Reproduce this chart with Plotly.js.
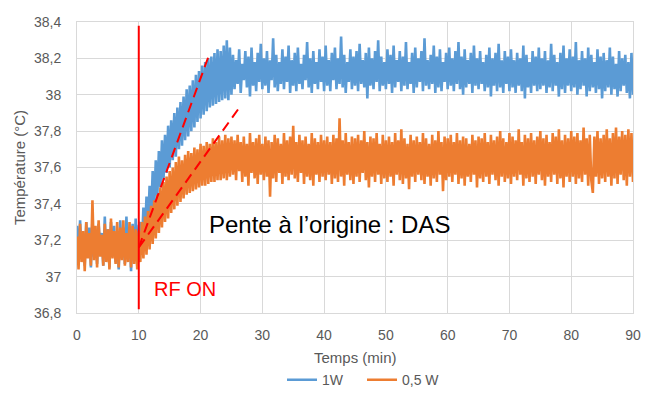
<!DOCTYPE html>
<html>
<head>
<meta charset="utf-8">
<script src="https://cdn.plot.ly/plotly-3.0.1.min.js"></script>
<style>html,body{margin:0;padding:0;background:#fff;}#chart{width:653px;height:401px;}</style>
</head>
<body>
<div id="chart"></div>
<script>
// ---- DATA ----
const sampleStepMin = 0.25; // one reading every 0.25 min, t = 0 ... 90 min

// 1W series (°C)
const temp1W = [
// 0 - 10 min
37.28,37.08,37.31,37.10,37.22,37.06,37.30,37.12,37.27,37.05,
37.32,37.11,37.25,37.07,37.29,37.13,37.24,37.06,37.33,37.09,
37.26,37.05,37.30,37.12,37.28,37.08,37.23,37.04,37.31,37.10,
37.27,37.07,37.33,37.11,37.25,37.03,37.29,37.09,37.32,37.06,
37.28,
// 10.25 - 25 min
37.30,37.16,37.38,37.22,37.44,37.27,37.50,37.33,37.58,37.38,
37.64,37.44,37.69,37.49,37.75,37.53,37.78,37.57,37.83,37.60,
37.86,37.64,37.90,37.66,37.93,37.70,37.96,37.72,37.99,37.75,
38.03,37.77,38.05,37.80,38.08,37.82,38.11,37.85,38.13,37.87,
38.16,37.89,38.18,37.91,38.20,37.93,38.21,37.94,38.23,37.95,
38.25,37.96,38.24,37.97,38.27,37.98,38.30,37.97,38.26,38.00,
// 25.25 - 90 min
38.22,38.03,38.19,38.06,38.25,38.01,38.17,38.08,38.24,38.04,38.21,37.99,38.26,38.05,38.18,38.02,38.23,38.07,38.28,38.03,
38.20,38.05,38.24,38.01,38.19,38.08,38.31,38.04,38.22,38.02,38.18,38.06,38.25,38.03,38.21,38.07,38.27,38.01,38.19,38.05,
38.23,38.02,38.26,38.06,38.17,38.03,38.22,38.08,38.29,38.04,38.20,38.01,38.24,38.06,38.18,38.03,38.25,38.07,38.21,38.02,
38.27,38.05,38.19,38.02,38.23,38.08,38.26,38.03,38.20,38.06,38.32,38.04,38.22,38.01,38.18,38.07,38.25,38.03,38.21,38.05,
38.24,38.02,38.28,38.06,38.19,38.04,38.23,37.98,38.26,38.05,38.20,38.03,38.24,38.07,38.30,38.02,38.21,38.05,38.18,38.03,
38.25,38.06,38.22,38.01,38.27,38.04,38.19,38.07,38.24,38.02,38.21,38.05,38.29,38.03,38.18,38.06,38.23,38.01,38.26,38.04,
38.20,38.07,38.24,38.02,38.31,38.05,38.19,38.03,38.22,38.06,38.27,38.01,38.21,38.04,38.25,38.02,38.18,38.07,38.23,38.03,
38.26,38.05,38.20,38.02,38.24,38.06,38.29,38.03,38.21,38.00,38.25,38.04,38.19,38.06,38.23,38.01,38.27,38.05,38.20,38.03,
38.24,38.06,38.18,38.02,38.22,38.04,38.26,37.99,38.20,38.05,38.23,38.02,38.28,38.04,38.19,38.01,38.24,38.06,38.21,38.02,
38.25,38.04,38.19,38.01,38.23,38.05,38.20,38.02,38.27,37.98,38.22,38.04,38.18,38.01,38.24,38.05,38.21,38.02,38.26,38.03,
38.20,38.05,38.24,38.01,38.19,38.04,38.28,38.02,38.22,38.05,38.18,37.99,38.23,38.03,38.27,38.01,38.20,38.05,38.25,38.02,
38.21,38.04,38.29,38.00,38.19,38.03,38.24,38.05,38.20,37.99,38.26,38.02,38.22,38.04,38.18,38.01,38.25,38.03,38.21,37.98,
38.23,38.02,38.19,38.04,38.26,38.00,38.21,38.03,38.17,37.99,38.24,38.02,38.20,38.05,38.22,38.01,38.18,37.98,38.23,38.00
];

// 0,5 W series (°C)
const temp05W = [
// 0 - 10 min
37.22,37.04,37.29,37.08,37.25,37.03,37.30,37.10,37.24,37.06,
37.42,37.09,37.28,37.05,37.31,37.11,37.23,37.06,37.29,37.08,
37.26,37.04,37.32,37.10,37.25,37.07,37.30,37.05,37.27,37.09,
37.31,37.06,37.24,37.08,37.30,37.05,37.28,37.07,37.26,37.04,
37.25,
// 10.25 - 25 min
37.08,37.30,37.10,37.33,37.12,37.36,37.15,37.39,37.18,37.42,
37.21,37.45,37.24,37.49,37.27,37.52,37.30,37.55,37.32,37.58,
37.35,37.60,37.37,37.63,37.39,37.66,37.41,37.64,37.43,37.67,
37.45,37.69,37.46,37.68,37.47,37.71,37.48,37.70,37.49,37.73,
37.50,37.72,37.50,37.74,37.51,37.73,37.52,37.76,37.52,37.74,
37.53,37.77,37.53,37.75,37.54,37.78,37.53,37.76,37.55,37.77,
// 25.25 - 90 min
37.56,37.75,37.53,37.78,37.58,37.74,37.52,37.77,37.55,37.73,37.50,37.79,37.57,37.74,37.54,37.76,37.51,37.78,37.56,37.73,
37.53,37.77,37.55,37.75,37.44,37.74,37.54,37.78,37.52,37.76,37.57,37.73,37.51,37.79,37.55,37.75,37.53,37.77,37.56,37.83,
37.54,37.74,37.52,37.78,37.57,37.75,37.51,37.77,37.55,37.73,37.53,37.79,37.50,37.76,37.56,37.74,37.52,37.78,37.55,37.75,
37.53,37.77,37.56,37.74,37.51,37.78,37.54,37.76,37.52,37.87,37.55,37.75,37.50,37.79,37.56,37.74,37.53,37.77,37.51,37.76,
37.55,37.78,37.52,37.75,37.57,37.80,37.53,37.74,37.49,37.77,37.55,37.76,37.52,37.79,37.56,37.73,37.51,37.78,37.54,37.75,
37.52,37.77,37.55,37.74,37.50,37.79,37.56,37.75,37.53,37.81,37.51,37.76,37.54,37.73,37.48,37.78,37.55,37.75,37.52,37.77,
37.56,37.74,37.53,37.79,37.51,37.76,37.55,37.73,37.50,37.78,37.54,37.75,37.52,37.80,37.56,37.74,37.47,37.77,37.53,37.76,
37.55,37.78,37.52,37.74,37.56,37.79,37.51,37.75,37.54,37.77,37.50,37.76,37.55,37.73,37.52,37.78,37.56,37.75,37.49,37.77,
37.54,37.76,37.52,37.79,37.55,37.74,37.51,37.78,37.56,37.75,37.53,37.77,37.50,37.80,37.55,37.76,37.52,37.74,37.54,37.79,
37.51,37.77,37.55,37.75,37.53,37.81,37.56,37.74,37.50,37.78,37.54,37.76,37.52,37.79,37.55,37.75,37.51,37.77,37.56,37.80,
37.53,37.76,37.50,37.78,37.55,37.74,37.52,37.79,37.56,37.77,37.51,37.81,37.54,37.75,37.49,37.78,37.55,37.76,37.52,37.80,
37.55,37.77,37.51,37.79,37.54,37.75,37.52,37.82,37.56,37.76,37.50,37.78,37.53,37.46,37.77,37.55,37.80,37.51,37.76,37.54,
37.78,37.52,37.81,37.55,37.76,37.50,37.79,37.54,37.82,37.51,37.77,37.56,37.80,37.53,37.78,37.50,37.81,37.55,37.79,37.52
];

const seriesNames = ['1W', '0,5 W'];
const xAxisTitle = 'Temps (min)';
const yAxisTitle = 'Température (°C)';

// RF switched on at t = 10 min
const rfOnTime = 10;
const rfLineTemps = [38.38, 36.82];

// initial-slope (tangent) lines: [start, end]
const slope1WTimes = [10, 21.5];
const slope1WTemps = [37.16, 38.23];
const slope05WTimes = [10, 26.5];
const slope05WTemps = [37.16, 37.94];

const xTickVals = [0,10,20,30,40,50,60,70,80,90];
const yTickVals = [36.8,37,37.2,37.4,37.6,37.8,38,38.2,38.4];

// ---- CHART ----
const times = temp1W.map((_, i) => i * sampleStepMin);
const times05 = temp05W.map((_, i) => i * sampleStepMin);

const grey = '#595959';
const gridCol = '#d9d9d9';
const fontFam = 'Liberation Sans, Arial, sans-serif';

const traces = [
  { x: times, y: temp1W, name: seriesNames[0], type: 'scatter', mode: 'lines',
    line: { color: '#5b9bd5', width: 2.6 } },
  { x: times05, y: temp05W, name: seriesNames[1], type: 'scatter', mode: 'lines',
    line: { color: '#ed7d31', width: 2.6 } },
  { x: [rfOnTime, rfOnTime], y: rfLineTemps, mode: 'lines', showlegend: false,
    line: { color: '#ff0000', width: 2 } },
  { x: slope1WTimes, y: slope1WTemps, mode: 'lines', showlegend: false,
    line: { color: '#ff0000', width: 2, dash: '10px,6px' } },
  { x: slope05WTimes, y: slope05WTemps, mode: 'lines', showlegend: false,
    line: { color: '#ff0000', width: 2, dash: '10px,6px' } }
];

const layout = {
  width: 653, height: 401,
  margin: { l: 77, r: 20, t: 22, b: 88, autoexpand: false },
  paper_bgcolor: '#fff', plot_bgcolor: '#fff',
  separators: ', ',
  font: { family: fontFam, color: grey, size: 14 },
  showlegend: true,
  legend: { orientation: 'h', x: 0.5126, xanchor: 'center', xref: 'paper',
            yref: 'container', y: 0.052, yanchor: 'middle',
            font: { size: 14, color: grey }, itemwidth: 30, entrywidth: 35, entrywidthmode: 'pixels',
            traceorder: 'normal' },
  xaxis: {
    range: [0, 90], tickvals: xTickVals, ticks: '', showgrid: true, gridcolor: gridCol, gridwidth: 1,
    zeroline: false, showline: true, linecolor: gridCol, linewidth: 1, mirror: true, automargin: false,
    tickfont: { size: 14, color: grey }, ticklabelstandoff: 9,
    fixedrange: true
  },
  yaxis: {
    range: [36.8, 38.4], tickvals: yTickVals, ticks: '', showgrid: true, gridcolor: gridCol, gridwidth: 1,
    zeroline: false, showline: true, linecolor: gridCol, linewidth: 1, mirror: true, automargin: false,
    tickfont: { size: 14, color: grey }, ticklabelstandoff: 12,
    title: { text: yAxisTitle, font: { size: 15, color: grey }, standoff: 4 },
    fixedrange: true
  },
  annotations: [
    { x: 0.5, y: -0.1546, xref: 'paper', yref: 'paper', xanchor: 'center', yanchor: 'middle',
      text: xAxisTitle, showarrow: false, font: { family: fontFam, size: 15, color: grey } },
    { x: 21.0, y: 37.284, xref: 'x', yref: 'y', xanchor: 'left', yanchor: 'middle',
      text: 'Pente à l’origine : DAS', showarrow: false,
      font: { family: fontFam, size: 24, color: '#000000' } },
    { x: 12.2, y: 36.93, xref: 'x', yref: 'y', xanchor: 'left', yanchor: 'middle',
      text: 'RF ON', showarrow: false,
      font: { family: fontFam, size: 20, color: '#ff0000' } }
  ]
};

Plotly.newPlot('chart', traces, layout, { staticPlot: true, displayModeBar: false });
</script>
</body>
</html>
